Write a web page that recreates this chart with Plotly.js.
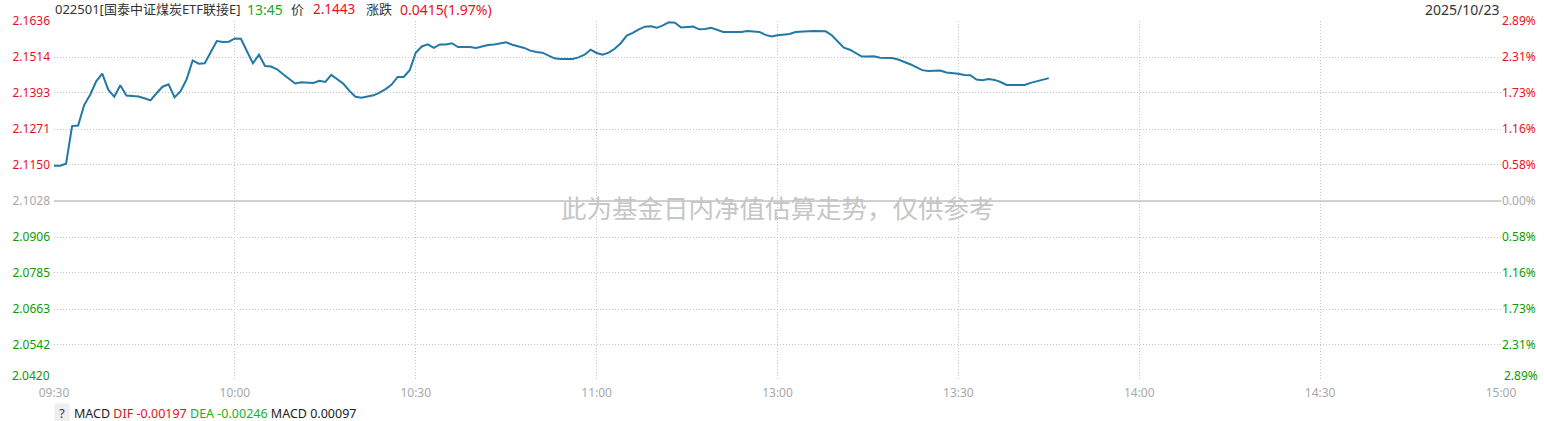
<!DOCTYPE html>
<html>
<head>
<meta charset="utf-8">
<script src="https://cdn.plot.ly/plotly-3.0.1.min.js"></script>
<style>
html,body{margin:0;padding:0;background:#fff;}
#chart{width:1544px;height:421px;}
</style>
</head>
<body>
<div id="chart"></div>
<script>
// ---- data ----
const fundCode = "022501";
const fundName = "国泰中证煤炭ETF联接E";
const quoteTime = "13:45";
const lastPrice = "2.1443";
const changeText = "0.0415(1.97%)";
const tradeDate = "2025/10/23";
const prevClose = 2.1028;
const watermark = "此为基金日内净值估算走势，仅供参考";
const macdDIF = "-0.00197";
const macdDEA = "-0.00246";
const macdValue = "0.00097";

// intraday estimated NAV, one value per trading minute from 09:30 to 13:45
const navValues = [
  2.1147, 2.1147, 2.1154, 2.1281, 2.1283, 2.1352, 2.1387, 2.1432, 2.1458, 2.1404,
  2.1380, 2.1419, 2.1384, 2.1382, 2.1381, 2.1375, 2.1368, 2.1392, 2.1414, 2.1422,
  2.1378, 2.1399, 2.1439, 2.1503, 2.1492, 2.1493, 2.1532, 2.1568, 2.1565, 2.1566,
  2.1577, 2.1576, 2.1534, 2.1493, 2.1522, 2.1484, 2.1482, 2.1473, 2.1456, 2.1439,
  2.1425, 2.1429, 2.1429, 2.1427, 2.1434, 2.1430, 2.1454, 2.1438, 2.1424, 2.1400,
  2.1380, 2.1377, 2.1381, 2.1385, 2.1394, 2.1406, 2.1421, 2.1447, 2.1447, 2.1470,
  2.1529, 2.1550, 2.1557, 2.1545, 2.1557, 2.1557, 2.1561, 2.1548, 2.1548, 2.1548,
  2.1545, 2.1551, 2.1555, 2.1557, 2.1560, 2.1564, 2.1556, 2.1550, 2.1545, 2.1536,
  2.1531, 2.1529, 2.1519, 2.1510, 2.1508, 2.1508, 2.1508, 2.1513, 2.1522, 2.1539,
  2.1528, 2.1522, 2.1529, 2.1542, 2.1561, 2.1587, 2.1596, 2.1608, 2.1617, 2.1618,
  2.1613, 2.1621, 2.1632, 2.1630, 2.1614, 2.1616, 2.1617, 2.1608, 2.1609, 2.1613,
  2.1606, 2.1599, 2.1599, 2.1599, 2.1599, 2.1602, 2.1600, 2.1599, 2.1589, 2.1584,
  2.1588, 2.1591, 2.1592, 2.1599, 2.1601, 2.1601, 2.1602, 2.1602, 2.1601, 2.1588,
  2.1566, 2.1546, 2.1539, 2.1527, 2.1516, 2.1516, 2.1517, 2.1512, 2.1511, 2.1511,
  2.1506, 2.1499, 2.1490, 2.1480, 2.1470, 2.1467, 2.1468, 2.1469, 2.1462, 2.1461,
  2.1458, 2.1454, 2.1453, 2.1438, 2.1436, 2.1440, 2.1437, 2.1430, 2.1420, 2.1420,
  2.1420, 2.1420, 2.1427, 2.1432, 2.1436, 2.1443
];

const timeTickVals = [0, 30, 60, 90, 120, 150, 180, 210, 240];
const timeTickText = ["09:30", "10:00", "10:30", "11:00", "13:00", "13:30", "14:00", "14:30", "15:00"];
const priceTicks = [2.1636, 2.1514, 2.1393, 2.1271, 2.1150, 2.1028, 2.0906, 2.0785, 2.0663, 2.0542, 2.0420];
const pctTicks = [2.89, 2.31, 1.73, 1.16, 0.58, 0, -0.58, -1.16, -1.73, -2.31, -2.89];
const pctTickText = ["2.89%", "2.31%", "1.73%", "1.16%", "0.58%", "0.00%", "0.58%", "1.16%", "1.73%", "2.31%", "2.89%"];

// ---- styling ----
const RED = "#e8101e";
const GREEN = "#0a9a0a";
const GRAY = "#a8a8a8";
const DARK = "#333333";
const FONT = "Noto Sans, Noto Sans CJK SC, sans-serif";

function colorFor(i, n) {
  const mid = (n - 1) / 2;
  return i < mid ? RED : (i > mid ? GREEN : GRAY);
}
const nP = priceTicks.length;
// the lowest label is drawn as an annotation lifted above the bottom edge
const priceTickText = priceTicks.map((v, i) => i === nP - 1 ? "" :
  '<span style="color:' + colorFor(i, nP) + '">' + v.toFixed(4) + '</span>');
const pctText = pctTickText.map((t, i) => i === nP - 1 ? "" :
  '<span style="color:' + colorFor(i, nP) + '">' + t + '</span>');

const minutes = navValues.map((_, i) => i);
const pctValues = navValues.map(v => (v / prevClose - 1) * 100);

const traces = [
  {
    x: minutes, y: navValues, type: "scatter", mode: "lines",
    line: {color: "#2378a6", width: 2, shape: "linear"},
    hoverinfo: "skip", showlegend: false
  },
  {
    x: minutes, y: pctValues, type: "scatter", mode: "lines", yaxis: "y2",
    line: {color: "rgba(0,0,0,0)", width: 0},
    hoverinfo: "skip", showlegend: false
  }
];

const GRID = "#c4c4c4";
function hdr(text, xshift, size, color) {
  return {xref: "paper", yref: "paper", x: 0, y: 1, xanchor: "left", yanchor: "middle",
    yshift: 12, xshift: xshift, text: text, showarrow: false,
    font: {family: FONT, size: size, color: color}};
}
const layout = {
  width: 1544, height: 421,
  margin: {l: 53.5, r: 43, t: 21, b: 40, pad: 0},
  paper_bgcolor: "#ffffff", plot_bgcolor: "#ffffff",
  font: {family: FONT, size: 12, color: DARK},
  showlegend: false,
  xaxis: {
    range: [0, 240], tickmode: "array", tickvals: timeTickVals, ticktext: timeTickText,
    showgrid: true, gridcolor: GRID, griddash: "1px,2px", gridwidth: 1,
    zeroline: false, showline: false, ticks: "", ticklabelstandoff: 3,
    tickfont: {family: FONT, size: 12, color: GRAY}, fixedrange: true
  },
  yaxis: {
    range: [priceTicks[nP - 1], priceTicks[0]],
    tickmode: "array", tickvals: priceTicks, ticktext: priceTickText,
    showgrid: true, gridcolor: GRID, griddash: "1px,2px", gridwidth: 1,
    zeroline: false, showline: false, ticks: "", ticklabelstandoff: 3,
    tickfont: {family: FONT, size: 12}, fixedrange: true
  },
  yaxis2: {
    overlaying: "y", side: "right",
    range: [pctTicks[nP - 1], pctTicks[0]],
    tickmode: "array", tickvals: pctTicks, ticktext: pctText,
    showgrid: false, zeroline: false, showline: false, ticks: "",
    tickfont: {family: FONT, size: 12}, fixedrange: true
  },
  shapes: [
    {type: "line", xref: "paper", x0: 0, x1: 1, yref: "y", y0: prevClose, y1: prevClose,
     line: {color: "#d2d2d2", width: 2}, layer: "below"}
  ],
  annotations: [
    {xref: "paper", yref: "paper", x: 0.5, y: 0.5, yshift: -5, text: watermark, showarrow: false,
     font: {family: "Noto Sans CJK SC, sans-serif", size: 25.5, color: "#c6c6c6"}},
    hdr(fundCode + "[" + fundName + "]", -1, 13, DARK),
    hdr(quoteTime, 191, 14, "#1fa51f"),
    hdr("价", 235, 13, DARK),
    hdr(lastPrice, 257, 13.5, RED),
    hdr("涨跌", 310, 13, DARK),
    hdr(changeText, 344, 14, RED),
    {xref: "paper", yref: "paper", x: 1, y: 1, xanchor: "right", yanchor: "middle", yshift: 12, xshift: 0,
     text: tradeDate, showarrow: false, font: {family: FONT, size: 14, color: DARK}},
    {xref: "paper", yref: "y", x: 0, y: priceTicks[nP - 1], xanchor: "right", yanchor: "middle",
     xshift: -2, yshift: 6, text: priceTicks[nP - 1].toFixed(4), showarrow: false,
     font: {family: FONT, size: 12, color: GREEN}},
    {xref: "paper", yref: "y2", x: 1, y: pctTicks[nP - 1], xanchor: "left", yanchor: "middle",
     xshift: 1, yshift: 6, text: pctTickText[nP - 1], showarrow: false,
     font: {family: FONT, size: 12, color: GREEN}},
    {xref: "paper", yref: "paper", x: 0, y: 0, xanchor: "left", yanchor: "middle", yshift: -32, xshift: 0,
     text: " ? ", showarrow: false, bgcolor: "#eeeeee", borderpad: 1,
     font: {family: FONT, size: 12.5, color: DARK}},
    {xref: "paper", yref: "paper", x: 0, y: 0, xanchor: "left", yanchor: "middle", yshift: -32, xshift: 18,
     text: 'MACD <span style="color:' + RED + '">DIF ' + macdDIF + '</span> <span style="color:#19b219">DEA ' + macdDEA + '</span> MACD ' + macdValue,
     showarrow: false, font: {family: FONT, size: 12.5, color: "#222"}}
  ]
};

Plotly.newPlot("chart", traces, layout, {staticPlot: true, displayModeBar: false});
</script>
</body>
</html>
